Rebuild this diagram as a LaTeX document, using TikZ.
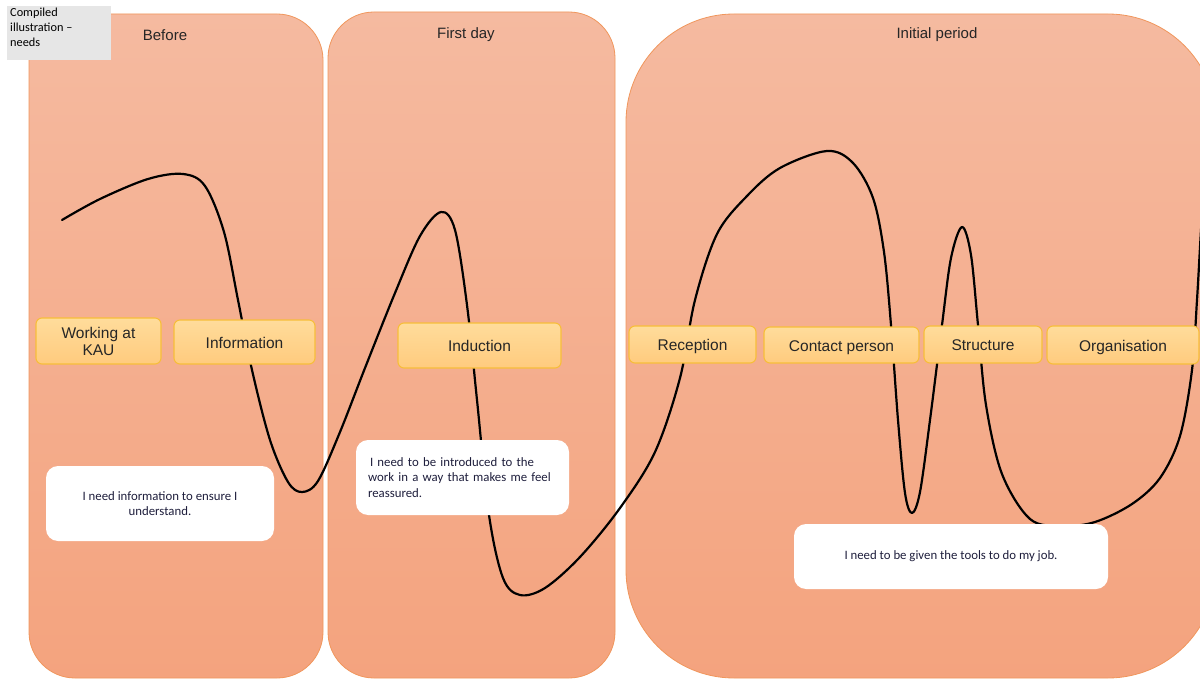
\documentclass[tikz,border=0pt]{standalone}
\usepackage{fontspec}
\setmainfont{Liberation Sans}
\newfontfamily\notefont{Carlito}
\begin{document}
\begin{tikzpicture}[x=1pt,y=-1pt]
\definecolor{panelTop}{RGB}{245,186,160}
\definecolor{panelBot}{RGB}{244,163,126}
\definecolor{panelEdge}{RGB}{240,150,92}
\definecolor{stepTop}{RGB}{255,220,155}
\definecolor{stepBot}{RGB}{255,203,126}
\definecolor{stepEdge}{RGB}{247,190,58}
\definecolor{noteInk}{RGB}{30,30,60}
\definecolor{tagFill}{RGB}{230,230,230}
\tikzset{
  panel/.style={draw=panelEdge, line width=0.8pt, top color=panelTop, bottom color=panelBot},
  phase/.style={font=\fontsize{15}{18}\selectfont, text=black!85},
  stepbox/.style={draw=stepEdge, line width=1.1pt, top color=stepTop, bottom color=stepBot,
    rounded corners=6pt, align=center, inner sep=0pt,
    font=\fontsize{15.5}{17}\selectfont, text=black!85},
  oneline/.style={text height=12pt, text depth=0pt},
  notebox/.style={fill=white, rounded corners=12pt, inner sep=0pt,
    font=\notefont\fontsize{12.8}{15.2}\selectfont, text=noteInk},
  journey/.style={draw=black, line width=2.2pt, line cap=round, line join=round}
}
\useasboundingbox (0,0) rectangle (1200,679);
\clip (0,0) rectangle (1200,679);

% phase panels
\draw[panel, rounded corners=46pt] (29,14) rectangle (323,678);
\draw[panel, rounded corners=46pt] (328,12) rectangle (615,678);
\draw[panel, rounded corners=108pt] (626,14) rectangle (1216,678);

\node[phase] (before) at (165,35) {Before};
\node[phase] (firstday) at (466,35) {First day};
\node[phase] (initial) at (937,35) {Initial period};

% emotional journey curve
\draw[journey] plot[smooth, tension=0.55] coordinates {
  (62,220) (100,199) (148,179) (183,174) (205,186) (224,232) (238,300) (252,370)
  (270,440) (288,482) (302,492) (318,481) (340,432) (365,368) (395,293) (420,236)
  (441,212) (455,230) (467,305) (477,400) (489,515) (503,578) (520,595) (545,588)
  (580,557) (620,508) (655,452) (680,378) (695,300) (717,234) (747,196) (780,168)
  (827,151) (853,163) (873,198) (884,252) (891,325) (898,420) (905,493) (912,513)
  (920,492) (930,420) (942,325) (951,258) (962,227) (971,255) (978,325) (986,405)
  (1002,474) (1030,519) (1062,526) (1095,522) (1132,504) (1160,478) (1180,436)
  (1192,370) (1197,300) (1201,230) (1204,190)};

% journey steps
\node[stepbox, minimum width=125pt, minimum height=46pt] (kau) at (98.5,341) {Working at\\KAU};
\node[stepbox, oneline, minimum width=141pt, minimum height=44pt] (info) at (244.5,342) {Information};
\node[stepbox, oneline, minimum width=163pt, minimum height=45pt] (induction) at (479.5,345.5) {Induction};
\node[stepbox, oneline, minimum width=127pt, minimum height=37pt] (reception) at (692.5,344.5) {Reception};
\node[stepbox, oneline, minimum width=155pt, minimum height=36pt] (contact) at (841.5,345) {Contact person};
\node[stepbox, oneline, minimum width=118pt, minimum height=37pt] (structure) at (983,344.5) {Structure};
\node[stepbox, oneline, minimum width=152pt, minimum height=38pt] (organisation) at (1123,345) {Organisation};

% needs
\node[notebox, minimum width=228pt, minimum height=75pt, align=center] (need1) at (160,503.5)
  {I need information to ensure I\\understand.};
\node[notebox, text width=189pt, inner xsep=12pt, minimum height=75pt, align=left] (need2) at (462.5,477.5)
  {\hspace{2pt}I need to be introduced to the\\work in a way that makes me feel\\reassured.};
\node[notebox, minimum width=314pt, minimum height=65pt, align=center] (need3) at (951,556.5)
  {I need to be given the tools to do my job.};

% caption tag
\node[fill=tagFill, minimum width=104pt, minimum height=54pt, inner sep=0pt] (tagbox) at (59,33) {};
\node[anchor=north west, inner sep=0pt, align=left, font=\notefont\fontsize{12.3}{15}\selectfont, text=black]
  (tag) at (10,8) {Compiled\\illustration \textendash\\needs};
\end{tikzpicture}
\end{document}
